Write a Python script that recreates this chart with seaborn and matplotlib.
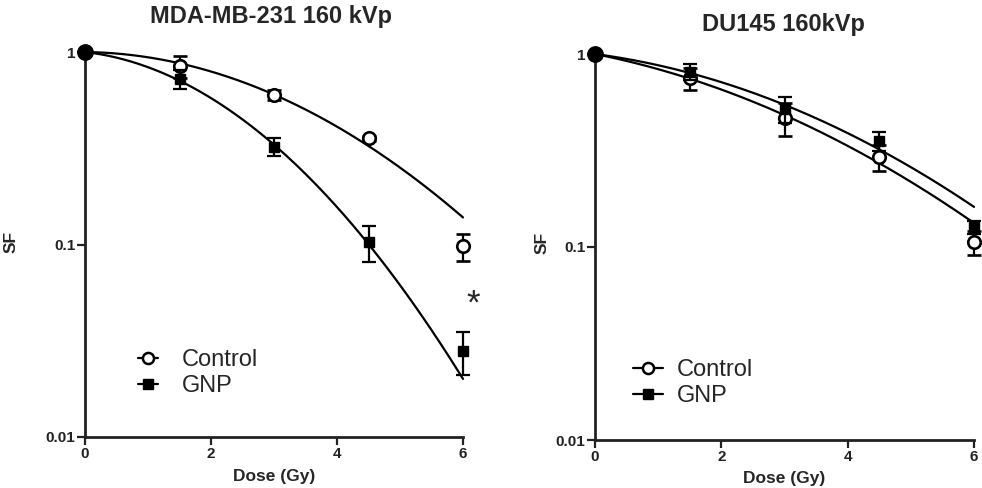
import numpy as np
import pandas as pd
import matplotlib
matplotlib.use("Agg")
import matplotlib.pyplot as plt
from matplotlib.lines import Line2D
from matplotlib.ticker import NullLocator
import seaborn as sns

# Clonogenic survival data (mean surviving fraction and SEM)
dose = [0, 1.5, 3, 4.5, 6]
groups = ["Control", "GNP"]

mda_control = [1.0, 0.845, 0.600, 0.356, 0.098]
mda_control_err = [0.0, 0.110, 0.035, 0.010, 0.016]
mda_gnp = [1.0, 0.724, 0.322, 0.103, 0.028]
mda_gnp_err = [0.0, 0.080, 0.035, 0.022, 0.007]

du_control = [1.0, 0.750, 0.466, 0.293, 0.106]
du_control_err = [0.0, 0.100, 0.090, 0.045, 0.015]
du_gnp = [1.0, 0.810, 0.520, 0.354, 0.127]
du_gnp_err = [0.0, 0.080, 0.080, 0.040, 0.010]

# Linear-quadratic fit parameters, SF = exp(-alpha*D - beta*D^2)  [Control, GNP]
mda_alpha = [0.010, 0.0877]
mda_beta = [0.0533, 0.0940]
du_alpha = [0.150, 0.100]
du_beta = [0.031, 0.034]

titles = ["MDA-MB-231 160 kVp", "DU145 160kVp"]
y_ticks = [0.01, 0.1, 1]
y_ticklabels = ["0.01", "0.1", "1"]
x_ticks = [0, 2, 4, 6]

sns.set_style("ticks")
plt.rcParams["font.family"] = ["Liberation Sans", "DejaVu Sans"]

W, H = 982, 488
fig = plt.figure(figsize=(W / 100, H / 100), dpi=100)


def px_axes(x0, x1, y_top, y_bot):
    return fig.add_axes([x0 / W, 1 - y_bot / H, (x1 - x0) / W, (y_bot - y_top) / H])


def lq_frame(alphas, betas):
    d = np.linspace(0, 6, 200)
    rows = []
    for g, a, b in zip(groups, alphas, betas):
        rows.append(pd.DataFrame({"Dose": d, "SF": np.exp(-a * d - b * d ** 2), "Group": g}))
    return pd.concat(rows, ignore_index=True)


def draw_panel(ax, ctrl, ctrl_err, gnp, gnp_err, alphas, betas):
    ax.set_yscale("log")
    curves = lq_frame(alphas, betas)
    sns.lineplot(data=curves, x="Dose", y="SF", hue="Group",
                 palette={"Control": "black", "GNP": "black"},
                 estimator=None, legend=False, lw=1.6, ax=ax)
    for ln in ax.lines:
        ln.set_clip_on(False)

    eb_c = ax.errorbar(dose[1:], ctrl[1:], yerr=ctrl_err[1:], fmt="o", ms=9,
                       mfc="white", mec="black", mew=1.9, ecolor="black",
                       elinewidth=1.6, capsize=4.8, capthick=1.6, zorder=4)
    eb_g = ax.errorbar(dose[1:], gnp[1:], yerr=gnp_err[1:], fmt="s", ms=7.5,
                       mfc="black", mec="black", ecolor="black",
                       elinewidth=1.6, capsize=4.8, capthick=1.6, zorder=5)
    for eb in (eb_c, eb_g):
        eb[0].set_clip_on(False)
        for art in list(eb[1]) + list(eb[2]):
            art.set_clip_on(False)

    # shared starting point at zero dose
    sns.scatterplot(x=[dose[0]], y=[ctrl[0]], s=125, color="black",
                    edgecolor="black", ax=ax, zorder=6, clip_on=False, legend=False)

    ax.set_xlim(0, 6)
    ax.set_ylim(0.01, 1)
    ax.set_yticks(y_ticks)
    ax.set_yticklabels(y_ticklabels)
    ax.yaxis.set_minor_locator(NullLocator())
    ax.set_xticks(x_ticks)
    ax.set_xticklabels([str(t) for t in x_ticks])
    ax.tick_params(direction="out", length=5.5, width=1.6, labelsize=11, pad=1.5,
                   colors="#222222")
    for lbl in ax.get_xticklabels() + ax.get_yticklabels():
        lbl.set_fontweight("bold")
    sns.despine(ax=ax)
    for s in ("left", "bottom"):
        ax.spines[s].set_linewidth(2.0)
        ax.spines[s].set_color("#222222")
    ax.set_xlabel("Dose (Gy)", fontsize=12.5, fontweight="bold", va="center")
    ax.set_ylabel("SF", fontsize=12.5, fontweight="bold", va="center")


ax1 = px_axes(85, 463, 52, 437)
draw_panel(ax1, mda_control, mda_control_err, mda_gnp, mda_gnp_err, mda_alpha, mda_beta)
ax1.xaxis.set_label_coords(0.5, (437 - 477) / 385)
ax1.yaxis.set_label_coords((11 - 85) / 378, (437 - 242) / 385)

ax2 = px_axes(595, 974, 54, 440)
draw_panel(ax2, du_control, du_control_err, du_gnp, du_gnp_err, du_alpha, du_beta)
ax2.xaxis.set_label_coords(0.5, (440 - 478) / 386)
ax2.yaxis.set_label_coords((542 - 595) / 379, (440 - 243) / 386)

# significance mark at 6 Gy
ax1.text(6.16, 0.049, "*", fontsize=25, ha="center", va="center", clip_on=False)

fig.text(271 / W, 1 - 16 / H, titles[0], fontsize=17, fontweight="bold",
         ha="center", va="center")
fig.text(783 / W, 1 - 25 / H, titles[1], fontsize=17, fontweight="bold",
         ha="center", va="center")

handles = [
    Line2D([], [], color="black", lw=1.6, marker="o", ms=8, mfc="white",
           mec="black", mew=1.8),
    Line2D([], [], color="black", lw=1.6, marker="s", ms=7, mfc="black",
           mec="black"),
]
for ax, x0, yc, hl, tp in ((ax1, (138 - 85) / 378, (437 - 373) / 385, 0.85, 1.0),
                           (ax2, (633 - 595) / 379, (440 - 383) / 386, 1.25, 0.6)):
    ax.legend(handles, groups, loc="center left", bbox_to_anchor=(x0, yc),
              frameon=False, fontsize=17, handlelength=hl, handletextpad=tp,
              labelspacing=0.15, borderpad=0, borderaxespad=0)

fig.savefig("out.png", dpi=100, facecolor="white")
